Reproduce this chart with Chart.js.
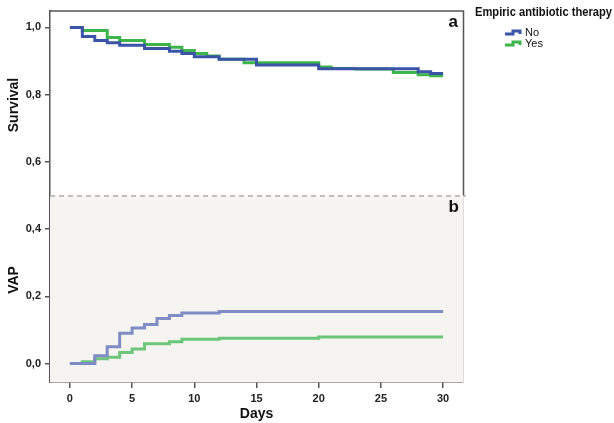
<!DOCTYPE html>
<html>
<head>
<meta charset="utf-8">
<script src="https://cdn.jsdelivr.net/npm/chart.js@4"></script>
<style>
  body { margin: 0; background: #fff; }
  #wrap { width: 614px; height: 423px; position: relative; }
</style>
</head>
<body>
<div id="wrap"><canvas id="myChart" width="614" height="423"></canvas></div>
<script>
// Kaplan-Meier style steps: each value holds from its day to the next one
const survNoDays = [0, 1, 2, 3, 4, 6, 8, 9, 10, 12, 15, 20, 28, 29, 30]
const survNo = [1.0, 0.973, 0.961, 0.954, 0.947, 0.937, 0.929, 0.922, 0.913, 0.905, 0.888, 0.877, 0.868, 0.863, 0.863]

const survYesDays = [0, 1, 3, 4, 6, 8, 9, 10, 11, 12, 14, 20, 21, 23, 26, 28, 29, 30]
const survYes = [1.0, 0.991, 0.97, 0.961, 0.949, 0.941, 0.931, 0.922, 0.915, 0.905, 0.895, 0.882, 0.878, 0.876, 0.866, 0.859, 0.856, 0.856]

const vapNoDays = [0, 2, 3, 4, 5, 6, 7, 8, 9, 12, 30]
const vapNo = [0, 0.023, 0.05, 0.09, 0.106, 0.116, 0.134, 0.143, 0.15, 0.155, 0.155]

const vapYesDays = [0, 1, 2, 3, 4, 5, 6, 8, 9, 12, 20, 30]
const vapYes = [0, 0.005, 0.014, 0.019, 0.033, 0.043, 0.059, 0.065, 0.072, 0.075, 0.079, 0.079]

const xTicks = [0, 5, 10, 15, 20, 25, 30]
const yTicks = [0, 0.2, 0.4, 0.6, 0.8, 1.0]

const blue = '#3b54a8'
const green = '#3db54a'
const blueLight = '#7f8cc6'
const greenLight = '#6dc67c'

const pts = (days, vals) => days.map((d, i) => ({ x: d, y: vals[i] }))

const panels = {
  id: 'panels',
  beforeDatasetsDraw(chart) {
    const { ctx, chartArea: a, scales: { y } } = chart
    const mid = y.getPixelForValue(0.5)
    ctx.save()
    ctx.fillStyle = '#f5f4f0'
    ctx.fillRect(a.left, mid, a.right - a.left, a.bottom - mid)
    ctx.strokeStyle = '#ddd'
    ctx.lineWidth = 1
    ctx.beginPath()
    ctx.moveTo(a.right + 0.5, mid)
    ctx.lineTo(a.right + 0.5, a.bottom)
    ctx.stroke()
    ctx.strokeStyle = '#555'
    ctx.lineWidth = 1.5
    ctx.beginPath()
    ctx.moveTo(a.left, a.top + 0.5)
    ctx.lineTo(a.right + 0.5, a.top + 0.5)
    ctx.lineTo(a.right + 0.5, mid)
    ctx.stroke()
    ctx.strokeStyle = '#888'
    ctx.lineWidth = 1
    ctx.setLineDash([5, 4])
    ctx.beginPath()
    ctx.moveTo(a.left, mid + 0.5)
    ctx.lineTo(a.right + 3, mid + 0.5)
    ctx.stroke()
    ctx.restore()
  },
  afterDraw(chart) {
    const { ctx, chartArea: a, scales: { y } } = chart
    const mid = y.getPixelForValue(0.5)
    ctx.save()
    ctx.fillStyle = '#111'
    ctx.font = 'bold 17px "Liberation Sans", Arial, sans-serif'
    ctx.textAlign = 'right'
    ctx.textBaseline = 'middle'
    ctx.fillText('a', a.right - 5, a.top + 12)
    ctx.fillText('b', a.right - 4, mid + 12)

    // axis titles
    ctx.font = 'bold 14px "Liberation Sans", Arial, sans-serif'
    ctx.textAlign = 'center'
    ctx.save()
    ctx.translate(14, 105)
    ctx.rotate(-Math.PI / 2)
    ctx.fillText('Survival', 0, 0)
    ctx.restore()
    ctx.save()
    ctx.translate(14, 280)
    ctx.rotate(-Math.PI / 2)
    ctx.fillText('VAP', 0, 0)
    ctx.restore()

    // legend
    ctx.textAlign = 'left'
    ctx.font = 'bold 13px "Liberation Sans", Arial, sans-serif'
    ctx.fillText('Empiric antibiotic therapy', 475, 12, 137)
    const items = [['No', blue, 33], ['Yes', green, 44]]
    ctx.font = '11px "Liberation Sans", Arial, sans-serif'
    items.forEach(([label, col, yy]) => {
      ctx.strokeStyle = col
      ctx.lineWidth = 3
      ctx.beginPath()
      ctx.moveTo(505, yy + 1)
      ctx.lineTo(513, yy + 1)
      ctx.lineTo(513, yy - 2)
      ctx.lineTo(520, yy - 2)
      ctx.lineTo(520, yy + 1)
      ctx.stroke()
      ctx.fillStyle = '#111'
      ctx.fillText(label, 525, yy)
    })
    ctx.restore()
  }
}

const ds = (label, data, color) => ({
  label: label,
  data: data,
  borderColor: color,
  borderWidth: 3,
  stepped: 'before',
  pointRadius: 0,
  fill: false
})

new Chart(document.getElementById('myChart'), {
  type: 'line',
  data: {
    datasets: [
      ds('No', pts(survNoDays, survNo), blue),
      ds('Yes', pts(survYesDays, survYes), green),
      ds('VAP No', pts(vapNoDays, vapNo), blueLight),
      ds('VAP Yes', pts(vapYesDays, vapYes), greenLight)
    ]
  },
  options: {
    responsive: false,
    animation: false,
    layout: { padding: { top: 3, right: 151, left: 0, bottom: 0 } },
    plugins: { legend: { display: false }, tooltip: { enabled: false } },
    scales: {
      x: {
        type: 'linear',
        min: -1.6,
        max: 31.6,
        afterBuildTicks: (s) => { s.ticks = xTicks.map(v => ({ value: v })) },
        afterFit: (s) => { s.height = 41 },
        grid: { drawOnChartArea: false, tickLength: 6, color: '#555', lineWidth: 1.5 },
        border: { color: '#555', width: 1.5 },
        ticks: { color: '#222', font: { size: 11, weight: 'bold', family: '"Liberation Sans", Arial' }, padding: 4, maxRotation: 0 },
        title: { display: true, text: 'Days', color: '#111', font: { size: 14, weight: 'bold', family: '"Liberation Sans", Arial' }, padding: { top: 0, bottom: 0 } }
      },
      y: {
        min: -0.055,
        max: 1.05,
        afterBuildTicks: (s) => { s.ticks = yTicks.map(v => ({ value: v })) },
        afterFit: (s) => { s.width = 50 },
        grid: { drawOnChartArea: false, tickLength: 5, color: '#555', lineWidth: 1.5 },
        border: { color: '#555', width: 1.5 },
        ticks: {
          color: '#222',
          font: { size: 11, weight: 'bold', family: '"Liberation Sans", Arial' },
          padding: 4,
          callback: (v) => v.toFixed(1).replace('.', ',')
        }
      }
    }
  },
  plugins: [panels]
})
</script>
</body>
</html>
